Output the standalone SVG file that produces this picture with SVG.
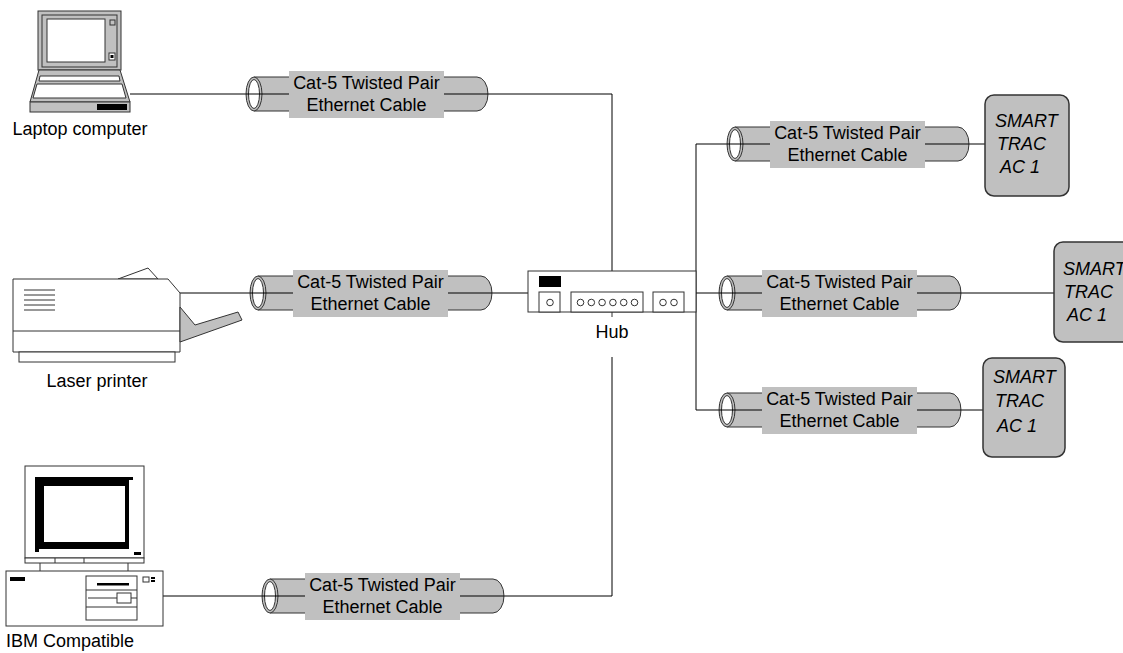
<svg xmlns="http://www.w3.org/2000/svg" width="1123" height="653" viewBox="0 0 1123 653">
  <style>
    .wire { stroke: #000; stroke-width: 1; fill: none; }
    .ol { stroke: #333; stroke-width: 1; }
    .w { fill: #fff; }
    .g { fill: #c0c0c0; }
    .k { fill: #000; }
    .txt { font-family: "Liberation Sans", Arial, sans-serif; font-size: 18px; fill: #000; }
    .mid { text-anchor: middle; }
    .it { font-style: italic; }
    .box { fill: #c0c0c0; stroke: #333; stroke-width: 1.5; }
  </style>
  <defs>
    <!-- cable tube drawn around its wire: origin is the centre of the open end -->
    <g id="tube">
      <path class="g ol" d="M0,-17 H223 A11,17 0 0 1 223,17 H0 Z"/>
      <ellipse class="g ol" cx="0" cy="0" rx="8" ry="17"/>
      <ellipse class="w ol" cx="0" cy="0" rx="5.5" ry="14.5"/>
      <line class="wire" x1="-8" y1="0" x2="234" y2="0"/>
    </g>
  </defs>

  <rect width="1123" height="653" fill="#fff"/>

  <!-- connectors -->
  <g id="connectors">
    <path class="wire" d="M130,94 H246"/>
    <path class="wire" d="M488,94 H612 V271"/>
    <path class="wire" d="M180,293 H250"/>
    <path class="wire" d="M492,293 H528"/>
    <path class="wire" d="M163,596 H262"/>
    <path class="wire" d="M504,596 H612 V357"/>
    <path class="wire" d="M696,293 H719"/>
    <path class="wire" d="M727,144 H696 V410 H719"/>
    <path class="wire" d="M969,144 H985"/>
    <path class="wire" d="M961,293 H1054"/>
    <path class="wire" d="M961,410 H983"/>
  </g>

  <!-- laptop -->
  <g id="laptop">
    <rect class="g ol" x="38" y="11" width="83" height="59"/>
    <rect fill="none" class="ol" x="42" y="15" width="75" height="52"/>
    <rect class="w ol" x="47" y="19" width="58" height="43"/>
    <rect class="g ol" x="110" y="20" width="5" height="5"/>
    <rect class="w ol" x="109" y="53" width="6" height="7"/>
    <rect class="k" x="110.5" y="55" width="3" height="3"/>
    <polygon class="g ol" points="39,70 120,70 130,102 30,102"/>
    <polygon class="w ol" points="40,76 119,76 120,81 39,81"/>
    <polygon class="w ol" points="37,84 122,84 126,98 33,98"/>
    <rect class="g ol" x="30" y="102" width="100" height="10"/>
    <rect class="k" x="97" y="104" width="30" height="6"/>
    <text class="txt mid" x="80" y="135">Laptop computer</text>
  </g>

  <!-- laser printer -->
  <g id="printer">
    <polygon class="w ol" points="118,279 148,268 158,279"/>
    <polygon class="w ol" points="13,279 168,279 180,293 180,352 13,352"/>
    <line class="ol" x1="13" y1="331" x2="180" y2="331"/>
    <rect class="w ol" x="19" y="352" width="156" height="10"/>
    <g class="ol">
      <line x1="24" y1="290" x2="55" y2="290"/>
      <line x1="24" y1="295" x2="55" y2="295"/>
      <line x1="24" y1="300" x2="55" y2="300"/>
      <line x1="24" y1="305" x2="55" y2="305"/>
      <line x1="24" y1="310" x2="55" y2="310"/>
    </g>
    <polygon class="g ol" points="180,307 195,325 238,312 242,320 180,342"/>
    <text class="txt mid" x="97" y="387">Laser printer</text>
  </g>

  <!-- desktop PC -->
  <g id="pc">
    <rect class="w ol" x="25" y="466" width="119" height="92"/>
    <rect class="w ol" x="25" y="558" width="119" height="5"/>
    <line class="ol" x1="55" y1="558" x2="55" y2="563"/>
    <line class="ol" x1="84" y1="558" x2="84" y2="563"/>
    <path class="k" fill-rule="evenodd" d="M35,477 H133 V480 H129 V549 H39 V552 H35 Z M44,486 V542 H125 V486 Z"/>
    <rect class="k" x="134" y="552" width="7" height="3"/>
    <line class="ol" x1="40" y1="563" x2="40" y2="571"/>
    <line class="ol" x1="128" y1="563" x2="128" y2="571"/>
    <rect class="w ol" x="6" y="571" width="157" height="55"/>
    <rect class="k" x="10" y="577" width="15" height="4"/>
    <rect class="w ol" x="86" y="576" width="51" height="44"/>
    <line class="ol" x1="86" y1="590" x2="137" y2="590"/>
    <line class="ol" x1="86" y1="607" x2="137" y2="607"/>
    <rect class="k" x="97" y="583" width="32" height="2.5"/>
    <line class="ol" x1="88" y1="598" x2="137" y2="598"/>
    <rect class="w ol" x="117" y="593" width="14" height="10"/>
    <rect class="w ol" x="143" y="577" width="6" height="5"/>
    <rect class="k" x="151" y="577" width="4" height="2"/>
    <rect class="k" x="151" y="580" width="4" height="2"/>
    <text class="txt mid" x="70" y="647">IBM Compatible</text>
  </g>

  <!-- hub -->
  <g id="hub">
    <rect class="w ol" x="528" y="271" width="168" height="41"/>
    <rect class="k" x="539" y="276" width="22" height="11"/>
    <rect class="w ol" x="539" y="292" width="21" height="20"/>
    <rect class="w ol" x="571" y="292" width="72" height="20"/>
    <rect class="w ol" x="653" y="292" width="31" height="20"/>
    <g class="w ol">
      <circle cx="550" cy="302.5" r="3.3"/>
      <circle cx="580.5" cy="302.5" r="3.3"/>
      <circle cx="591.3" cy="302.5" r="3.3"/>
      <circle cx="602.1" cy="302.5" r="3.3"/>
      <circle cx="612.9" cy="302.5" r="3.3"/>
      <circle cx="623.7" cy="302.5" r="3.3"/>
      <circle cx="634.5" cy="302.5" r="3.3"/>
      <circle cx="663" cy="302.5" r="3.3"/>
      <circle cx="674" cy="302.5" r="3.3"/>
    </g>
    <line class="ol" x1="612" y1="312" x2="612" y2="317"/>
    <text class="txt mid" x="612" y="338">Hub</text>
  </g>

  <!-- cables -->
  <g id="cable-laptop">
    <use href="#tube" x="254" y="94"/>
    <rect class="g" x="289" y="71" width="155" height="47"/>
    <text class="txt mid" x="366.5" y="89">Cat-5 Twisted Pair</text>
    <text class="txt mid" x="366.5" y="111">Ethernet Cable</text>
  </g>
  <g id="cable-printer">
    <use href="#tube" x="258" y="293"/>
    <rect class="g" x="293" y="270" width="155" height="47"/>
    <text class="txt mid" x="370.5" y="288">Cat-5 Twisted Pair</text>
    <text class="txt mid" x="370.5" y="310">Ethernet Cable</text>
  </g>
  <g id="cable-pc">
    <use href="#tube" x="270" y="596"/>
    <rect class="g" x="305" y="573" width="155" height="47"/>
    <text class="txt mid" x="382.5" y="591">Cat-5 Twisted Pair</text>
    <text class="txt mid" x="382.5" y="613">Ethernet Cable</text>
  </g>
  <g id="cable-ac1">
    <use href="#tube" x="735" y="144"/>
    <rect class="g" x="770" y="121" width="155" height="47"/>
    <text class="txt mid" x="847.5" y="139">Cat-5 Twisted Pair</text>
    <text class="txt mid" x="847.5" y="161">Ethernet Cable</text>
  </g>
  <g id="cable-ac2">
    <use href="#tube" x="727" y="293"/>
    <rect class="g" x="762" y="270" width="155" height="47"/>
    <text class="txt mid" x="839.5" y="288">Cat-5 Twisted Pair</text>
    <text class="txt mid" x="839.5" y="310">Ethernet Cable</text>
  </g>
  <g id="cable-ac3">
    <use href="#tube" x="727" y="410"/>
    <rect class="g" x="762" y="387" width="155" height="47"/>
    <text class="txt mid" x="839.5" y="405">Cat-5 Twisted Pair</text>
    <text class="txt mid" x="839.5" y="427">Ethernet Cable</text>
  </g>

  <!-- SMART TRAC controllers -->
  <g id="smarttrac-1">
    <rect class="box" x="985" y="95" width="84" height="101" rx="9"/>
    <text class="txt it" x="995" y="127">SMART</text>
    <text class="txt it" x="997" y="150">TRAC</text>
    <text class="txt it" x="1000" y="173">AC 1</text>
  </g>
  <g id="smarttrac-2">
    <rect class="box" x="1054" y="242" width="84" height="100" rx="9"/>
    <text class="txt it" x="1063" y="275">SMART</text>
    <text class="txt it" x="1064" y="298">TRAC</text>
    <text class="txt it" x="1067" y="321">AC 1</text>
  </g>
  <g id="smarttrac-3">
    <rect class="box" x="983" y="358" width="82" height="99" rx="9"/>
    <text class="txt it" x="993" y="383">SMART</text>
    <text class="txt it" x="995" y="407">TRAC</text>
    <text class="txt it" x="997" y="432">AC 1</text>
  </g>
</svg>
